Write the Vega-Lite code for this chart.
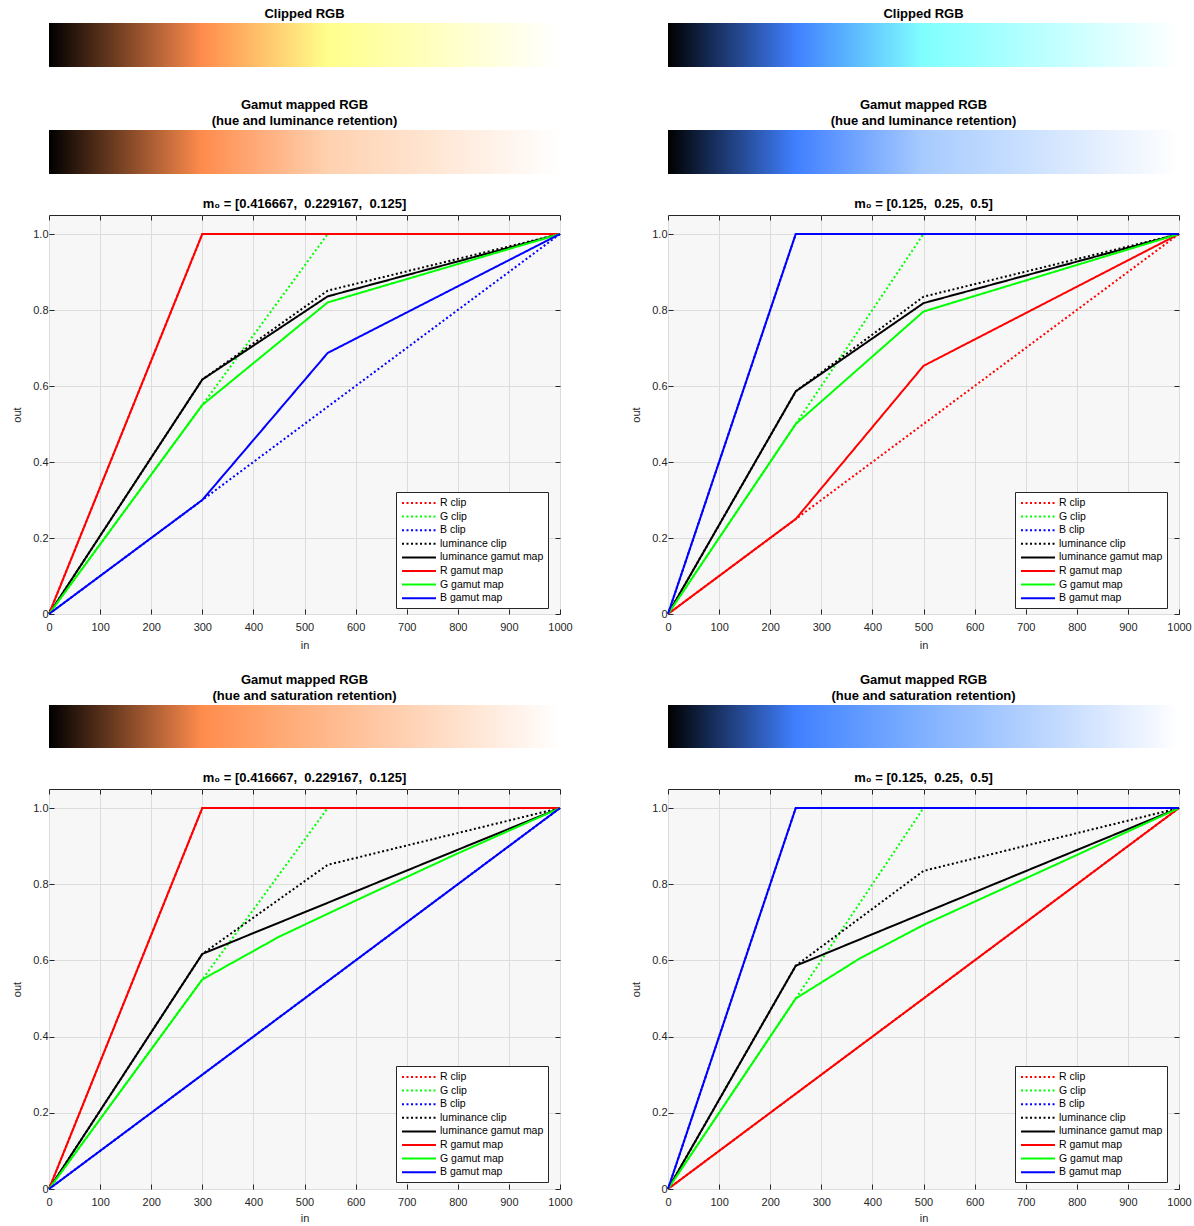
{
  "$schema": "https://vega.github.io/schema/vega-lite/v6.json",
  "background": "white",
  "padding": {"left": 11, "top": 8, "right": 0, "bottom": 0},
  "config": {
    "font": "Liberation Sans",
    "title": {"fontSize": 13, "fontWeight": "bold", "color": "#000000", "offset": 4, "lineHeight": 16},
    "axis": {"labelFontSize": 11, "labelColor": "#262626", "labelFlush": false, "titleFontSize": 11, "titleFontWeight": "normal", "titleColor": "#262626", "tickColor": "#262626", "gridColor": "#dcdcdc", "gridOpacity": 1, "domain": false},
    "view": {"fill": "#f7f7f7", "stroke": "#262626"},
    "legend": {"orient": "none", "legendX": 347, "legendY": 277, "symbolType": "M-3,0H3", "symbolSize": 128, "symbolOffset": 12, "symbolStrokeWidth": 2, "labelFontSize": 10.5, "labelColor": "#000000", "labelOffset": 14, "rowPadding": 0.6, "padding": 4, "fillColor": "#ffffff", "strokeColor": "#262626", "title": null}
  },
  "datasets": {
    "lumL": [
      {"series": "R clip", "in": 0, "out": 0}, {"series": "R clip", "in": 300, "out": 1}, {"series": "R clip", "in": 1000, "out": 1},
      {"series": "G clip", "in": 0, "out": 0}, {"series": "G clip", "in": 545.45, "out": 1}, {"series": "G clip", "in": 1000, "out": 1},
      {"series": "B clip", "in": 0, "out": 0}, {"series": "B clip", "in": 1000, "out": 1},
      {"series": "luminance clip", "in": 0, "out": 0}, {"series": "luminance clip", "in": 300, "out": 0.617}, {"series": "luminance clip", "in": 545.45, "out": 0.851}, {"series": "luminance clip", "in": 1000, "out": 1},
      {"series": "luminance gamut map", "in": 0, "out": 0}, {"series": "luminance gamut map", "in": 300, "out": 0.617}, {"series": "luminance gamut map", "in": 545.45, "out": 0.836}, {"series": "luminance gamut map", "in": 1000, "out": 1},
      {"series": "R gamut map", "in": 0, "out": 0}, {"series": "R gamut map", "in": 300, "out": 1}, {"series": "R gamut map", "in": 1000, "out": 1},
      {"series": "G gamut map", "in": 0, "out": 0}, {"series": "G gamut map", "in": 300, "out": 0.55}, {"series": "G gamut map", "in": 545.45, "out": 0.82}, {"series": "G gamut map", "in": 1000, "out": 1},
      {"series": "B gamut map", "in": 0, "out": 0}, {"series": "B gamut map", "in": 300, "out": 0.3}, {"series": "B gamut map", "in": 545.45, "out": 0.687}, {"series": "B gamut map", "in": 1000, "out": 1}
    ],
    "satL": [
      {"series": "R clip", "in": 0, "out": 0}, {"series": "R clip", "in": 300, "out": 1}, {"series": "R clip", "in": 1000, "out": 1},
      {"series": "G clip", "in": 0, "out": 0}, {"series": "G clip", "in": 545.45, "out": 1}, {"series": "G clip", "in": 1000, "out": 1},
      {"series": "B clip", "in": 0, "out": 0}, {"series": "B clip", "in": 1000, "out": 1},
      {"series": "luminance clip", "in": 0, "out": 0}, {"series": "luminance clip", "in": 300, "out": 0.617}, {"series": "luminance clip", "in": 545.45, "out": 0.851}, {"series": "luminance clip", "in": 1000, "out": 1},
      {"series": "luminance gamut map", "in": 0, "out": 0}, {"series": "luminance gamut map", "in": 300, "out": 0.617}, {"series": "luminance gamut map", "in": 1000, "out": 1},
      {"series": "R gamut map", "in": 0, "out": 0}, {"series": "R gamut map", "in": 300, "out": 1}, {"series": "R gamut map", "in": 1000, "out": 1},
      {"series": "G gamut map", "in": 0, "out": 0}, {"series": "G gamut map", "in": 300, "out": 0.55}, {"series": "G gamut map", "in": 450, "out": 0.662}, {"series": "G gamut map", "in": 600, "out": 0.757}, {"series": "G gamut map", "in": 800, "out": 0.881}, {"series": "G gamut map", "in": 1000, "out": 1},
      {"series": "B gamut map", "in": 0, "out": 0}, {"series": "B gamut map", "in": 1000, "out": 1}
    ],
    "lumR": [
      {"series": "R clip", "in": 0, "out": 0}, {"series": "R clip", "in": 1000, "out": 1},
      {"series": "G clip", "in": 0, "out": 0}, {"series": "G clip", "in": 500, "out": 1}, {"series": "G clip", "in": 1000, "out": 1},
      {"series": "B clip", "in": 0, "out": 0}, {"series": "B clip", "in": 250, "out": 1}, {"series": "B clip", "in": 1000, "out": 1},
      {"series": "luminance clip", "in": 0, "out": 0}, {"series": "luminance clip", "in": 250, "out": 0.586}, {"series": "luminance clip", "in": 500, "out": 0.835}, {"series": "luminance clip", "in": 1000, "out": 1},
      {"series": "luminance gamut map", "in": 0, "out": 0}, {"series": "luminance gamut map", "in": 250, "out": 0.586}, {"series": "luminance gamut map", "in": 500, "out": 0.818}, {"series": "luminance gamut map", "in": 1000, "out": 1},
      {"series": "R gamut map", "in": 0, "out": 0}, {"series": "R gamut map", "in": 250, "out": 0.25}, {"series": "R gamut map", "in": 500, "out": 0.653}, {"series": "R gamut map", "in": 1000, "out": 1},
      {"series": "G gamut map", "in": 0, "out": 0}, {"series": "G gamut map", "in": 250, "out": 0.5}, {"series": "G gamut map", "in": 500, "out": 0.796}, {"series": "G gamut map", "in": 1000, "out": 1},
      {"series": "B gamut map", "in": 0, "out": 0}, {"series": "B gamut map", "in": 250, "out": 1}, {"series": "B gamut map", "in": 1000, "out": 1}
    ],
    "satR": [
      {"series": "R clip", "in": 0, "out": 0}, {"series": "R clip", "in": 1000, "out": 1},
      {"series": "G clip", "in": 0, "out": 0}, {"series": "G clip", "in": 500, "out": 1}, {"series": "G clip", "in": 1000, "out": 1},
      {"series": "B clip", "in": 0, "out": 0}, {"series": "B clip", "in": 250, "out": 1}, {"series": "B clip", "in": 1000, "out": 1},
      {"series": "luminance clip", "in": 0, "out": 0}, {"series": "luminance clip", "in": 250, "out": 0.586}, {"series": "luminance clip", "in": 500, "out": 0.835}, {"series": "luminance clip", "in": 1000, "out": 1},
      {"series": "luminance gamut map", "in": 0, "out": 0}, {"series": "luminance gamut map", "in": 250, "out": 0.586}, {"series": "luminance gamut map", "in": 1000, "out": 1},
      {"series": "R gamut map", "in": 0, "out": 0}, {"series": "R gamut map", "in": 1000, "out": 1},
      {"series": "G gamut map", "in": 0, "out": 0}, {"series": "G gamut map", "in": 250, "out": 0.5}, {"series": "G gamut map", "in": 375, "out": 0.605}, {"series": "G gamut map", "in": 500, "out": 0.693}, {"series": "G gamut map", "in": 750, "out": 0.846}, {"series": "G gamut map", "in": 1000, "out": 1},
      {"series": "B gamut map", "in": 0, "out": 0}, {"series": "B gamut map", "in": 250, "out": 1}, {"series": "B gamut map", "in": 1000, "out": 1}
    ],
    "span": [{"from": 0, "to": 1000}]
  },
  "spacing": 57,
  "resolve": {"scale": {"color": "independent", "strokeDash": "independent"}, "legend": {"color": "independent", "strokeDash": "independent"}},
  "hconcat": [
    {
      "spacing": 23,
      "resolve": {"scale": {"color": "independent", "strokeDash": "independent"}, "legend": {"color": "independent", "strokeDash": "independent"}},
      "vconcat": [
        {
          "width": 511, "height": 53, "title": {"text": "Clipped RGB", "offset": 2}, "view": {"stroke": null, "fill": null},
          "data": {"name": "span"},
          "mark": {"type": "rect", "fill": {"gradient": "linear", "x1": 0, "y1": 0, "x2": 1, "y2": 0, "stops": [{"offset": 0, "color": "#000000"}, {"offset": 0.3, "color": "#ff8c4d"}, {"offset": 0.5455, "color": "#ffff8b"}, {"offset": 1, "color": "#ffffff"}]}},
          "encoding": {"x": {"field": "from", "type": "quantitative", "scale": {"domain": [0, 1000]}, "axis": null}, "x2": {"field": "to"}, "y": {"datum": 0, "type": "quantitative", "scale": {"domain": [-0.205, 1], "nice": false}, "axis": null}, "y2": {"datum": 1}}
        },
        {
          "width": 511, "height": 44, "title": {"text": ["Gamut mapped RGB", "(hue and luminance retention)"], "offset": 2}, "view": {"stroke": null, "fill": null},
          "data": {"name": "span"},
          "mark": {"type": "rect", "fill": {"gradient": "linear", "x1": 0, "y1": 0, "x2": 1, "y2": 0, "stops": [{"offset": 0, "color": "#000000"}, {"offset": 0.3, "color": "#ff8c4d"}, {"offset": 0.5455, "color": "#ffd1af"}, {"offset": 1, "color": "#ffffff"}]}},
          "encoding": {"x": {"field": "from", "type": "quantitative", "scale": {"domain": [0, 1000]}, "axis": null}, "x2": {"field": "to"}}
        },
        {
          "width": 511, "height": 399, "title": "m₀ = [0.416667,\u00a0 0.229167,\u00a0 0.125]",
          "data": {"name": "lumL"},
          "layer": [
            {
              "mark": {"type": "line", "strokeWidth": 2},
              "encoding": {
                "x": {"field": "in", "type": "quantitative", "scale": {"domain": [0, 1000], "nice": false}, "axis": {"orient": "bottom", "values": [0, 100, 200, 300, 400, 500, 600, 700, 800, 900, 1000], "format": "d", "tickSize": -5, "labelPadding": 12, "title": "in", "titlePadding": 7, "grid": true}},
                "y": {"field": "out", "type": "quantitative", "scale": {"domain": [0, 1.05], "nice": false}, "axis": {"orient": "left", "values": [0, 0.2, 0.4, 0.6, 0.8, 1.0], "labelExpr": "datum.value == 0 ? '0' : format(datum.value, '.1f')", "tickSize": -5, "labelPadding": 6, "title": "out", "titlePadding": 10, "grid": true}},
                "color": {"field": "series", "type": "nominal", "sort": null, "scale": {"domain": ["R clip", "G clip", "B clip", "luminance clip", "luminance gamut map", "R gamut map", "G gamut map", "B gamut map"], "range": ["#ff0000", "#00ff00", "#0000ff", "#000000", "#000000", "#ff0000", "#00ff00", "#0000ff"]}},
                "strokeDash": {"field": "series", "type": "nominal", "sort": null, "scale": {"domain": ["R clip", "G clip", "B clip", "luminance clip", "luminance gamut map", "R gamut map", "G gamut map", "B gamut map"], "range": [[2, 2.5], [2, 2.5], [2, 2.5], [2, 2.5], [1, 0], [1, 0], [1, 0], [1, 0]]}}
              }
            },
            {
              "mark": {"type": "point", "opacity": 0},
              "encoding": {
                "x": {"field": "in", "type": "quantitative", "axis": {"orient": "top", "values": [0, 100, 200, 300, 400, 500, 600, 700, 800, 900, 1000], "tickSize": -5, "labels": false, "grid": false, "title": null}},
                "y": {"field": "out", "type": "quantitative", "axis": {"orient": "right", "values": [0, 0.2, 0.4, 0.6, 0.8, 1.0], "tickSize": -5, "labels": false, "grid": false, "title": null}}
              }
            }
          ],
          "resolve": {"axis": {"x": "independent", "y": "independent"}}
        },
        {
          "width": 511, "height": 43, "title": {"text": ["Gamut mapped RGB", "(hue and saturation retention)"], "offset": 2}, "view": {"stroke": null, "fill": null},
          "data": {"name": "span"},
          "mark": {"type": "rect", "fill": {"gradient": "linear", "x1": 0, "y1": 0, "x2": 1, "y2": 0, "stops": [{"offset": 0, "color": "#000000"}, {"offset": 0.3, "color": "#ff8c4d"}, {"offset": 0.45, "color": "#ffa973"}, {"offset": 0.6, "color": "#ffc199"}, {"offset": 0.8, "color": "#ffe1cc"}, {"offset": 1, "color": "#ffffff"}]}},
          "encoding": {"x": {"field": "from", "type": "quantitative", "scale": {"domain": [0, 1000]}, "axis": null}, "x2": {"field": "to"}}
        },
        {
          "width": 511, "height": 400, "title": "m₀ = [0.416667,\u00a0 0.229167,\u00a0 0.125]",
          "data": {"name": "satL"},
          "layer": [
            {
              "mark": {"type": "line", "strokeWidth": 2},
              "encoding": {
                "x": {"field": "in", "type": "quantitative", "scale": {"domain": [0, 1000], "nice": false}, "axis": {"orient": "bottom", "values": [0, 100, 200, 300, 400, 500, 600, 700, 800, 900, 1000], "format": "d", "tickSize": -5, "labelPadding": 12, "title": "in", "titlePadding": 5, "grid": true}},
                "y": {"field": "out", "type": "quantitative", "scale": {"domain": [0, 1.05], "nice": false}, "axis": {"orient": "left", "values": [0, 0.2, 0.4, 0.6, 0.8, 1.0], "labelExpr": "datum.value == 0 ? '0' : format(datum.value, '.1f')", "tickSize": -5, "labelPadding": 6, "title": "out", "titlePadding": 10, "grid": true}},
                "color": {"field": "series", "type": "nominal", "sort": null, "scale": {"domain": ["R clip", "G clip", "B clip", "luminance clip", "luminance gamut map", "R gamut map", "G gamut map", "B gamut map"], "range": ["#ff0000", "#00ff00", "#0000ff", "#000000", "#000000", "#ff0000", "#00ff00", "#0000ff"]}},
                "strokeDash": {"field": "series", "type": "nominal", "sort": null, "scale": {"domain": ["R clip", "G clip", "B clip", "luminance clip", "luminance gamut map", "R gamut map", "G gamut map", "B gamut map"], "range": [[2, 2.5], [2, 2.5], [2, 2.5], [2, 2.5], [1, 0], [1, 0], [1, 0], [1, 0]]}}
              }
            },
            {
              "mark": {"type": "point", "opacity": 0},
              "encoding": {
                "x": {"field": "in", "type": "quantitative", "axis": {"orient": "top", "values": [0, 100, 200, 300, 400, 500, 600, 700, 800, 900, 1000], "tickSize": -5, "labels": false, "grid": false, "title": null}},
                "y": {"field": "out", "type": "quantitative", "axis": {"orient": "right", "values": [0, 0.2, 0.4, 0.6, 0.8, 1.0], "tickSize": -5, "labels": false, "grid": false, "title": null}}
              }
            }
          ],
          "resolve": {"axis": {"x": "independent", "y": "independent"}}
        }
      ]
    },
    {
      "spacing": 23,
      "resolve": {"scale": {"color": "independent", "strokeDash": "independent"}, "legend": {"color": "independent", "strokeDash": "independent"}},
      "vconcat": [
        {
          "width": 511, "height": 53, "title": {"text": "Clipped RGB", "offset": 2}, "view": {"stroke": null, "fill": null},
          "data": {"name": "span"},
          "mark": {"type": "rect", "fill": {"gradient": "linear", "x1": 0, "y1": 0, "x2": 1, "y2": 0, "stops": [{"offset": 0, "color": "#000000"}, {"offset": 0.25, "color": "#4080ff"}, {"offset": 0.5, "color": "#80ffff"}, {"offset": 1, "color": "#ffffff"}]}},
          "encoding": {"x": {"field": "from", "type": "quantitative", "scale": {"domain": [0, 1000]}, "axis": null}, "x2": {"field": "to"}, "y": {"datum": 0, "type": "quantitative", "scale": {"domain": [-0.205, 1], "nice": false}, "axis": null}, "y2": {"datum": 1}}
        },
        {
          "width": 511, "height": 44, "title": {"text": ["Gamut mapped RGB", "(hue and luminance retention)"], "offset": 2}, "view": {"stroke": null, "fill": null},
          "data": {"name": "span"},
          "mark": {"type": "rect", "fill": {"gradient": "linear", "x1": 0, "y1": 0, "x2": 1, "y2": 0, "stops": [{"offset": 0, "color": "#000000"}, {"offset": 0.25, "color": "#4080ff"}, {"offset": 0.5, "color": "#a7cbff"}, {"offset": 1, "color": "#ffffff"}]}},
          "encoding": {"x": {"field": "from", "type": "quantitative", "scale": {"domain": [0, 1000]}, "axis": null}, "x2": {"field": "to"}}
        },
        {
          "width": 511, "height": 399, "title": "m₀ = [0.125,\u00a0 0.25,\u00a0 0.5]",
          "data": {"name": "lumR"},
          "layer": [
            {
              "mark": {"type": "line", "strokeWidth": 2},
              "encoding": {
                "x": {"field": "in", "type": "quantitative", "scale": {"domain": [0, 1000], "nice": false}, "axis": {"orient": "bottom", "values": [0, 100, 200, 300, 400, 500, 600, 700, 800, 900, 1000], "format": "d", "tickSize": -5, "labelPadding": 12, "title": "in", "titlePadding": 7, "grid": true}},
                "y": {"field": "out", "type": "quantitative", "scale": {"domain": [0, 1.05], "nice": false}, "axis": {"orient": "left", "values": [0, 0.2, 0.4, 0.6, 0.8, 1.0], "labelExpr": "datum.value == 0 ? '0' : format(datum.value, '.1f')", "tickSize": -5, "labelPadding": 6, "title": "out", "titlePadding": 10, "grid": true}},
                "color": {"field": "series", "type": "nominal", "sort": null, "scale": {"domain": ["R clip", "G clip", "B clip", "luminance clip", "luminance gamut map", "R gamut map", "G gamut map", "B gamut map"], "range": ["#ff0000", "#00ff00", "#0000ff", "#000000", "#000000", "#ff0000", "#00ff00", "#0000ff"]}},
                "strokeDash": {"field": "series", "type": "nominal", "sort": null, "scale": {"domain": ["R clip", "G clip", "B clip", "luminance clip", "luminance gamut map", "R gamut map", "G gamut map", "B gamut map"], "range": [[2, 2.5], [2, 2.5], [2, 2.5], [2, 2.5], [1, 0], [1, 0], [1, 0], [1, 0]]}}
              }
            },
            {
              "mark": {"type": "point", "opacity": 0},
              "encoding": {
                "x": {"field": "in", "type": "quantitative", "axis": {"orient": "top", "values": [0, 100, 200, 300, 400, 500, 600, 700, 800, 900, 1000], "tickSize": -5, "labels": false, "grid": false, "title": null}},
                "y": {"field": "out", "type": "quantitative", "axis": {"orient": "right", "values": [0, 0.2, 0.4, 0.6, 0.8, 1.0], "tickSize": -5, "labels": false, "grid": false, "title": null}}
              }
            }
          ],
          "resolve": {"axis": {"x": "independent", "y": "independent"}}
        },
        {
          "width": 511, "height": 43, "title": {"text": ["Gamut mapped RGB", "(hue and saturation retention)"], "offset": 2}, "view": {"stroke": null, "fill": null},
          "data": {"name": "span"},
          "mark": {"type": "rect", "fill": {"gradient": "linear", "x1": 0, "y1": 0, "x2": 1, "y2": 0, "stops": [{"offset": 0, "color": "#000000"}, {"offset": 0.25, "color": "#4080ff"}, {"offset": 0.375, "color": "#609aff"}, {"offset": 0.5, "color": "#80b1ff"}, {"offset": 0.75, "color": "#bfd8ff"}, {"offset": 1, "color": "#ffffff"}]}},
          "encoding": {"x": {"field": "from", "type": "quantitative", "scale": {"domain": [0, 1000]}, "axis": null}, "x2": {"field": "to"}}
        },
        {
          "width": 511, "height": 400, "title": "m₀ = [0.125,\u00a0 0.25,\u00a0 0.5]",
          "data": {"name": "satR"},
          "layer": [
            {
              "mark": {"type": "line", "strokeWidth": 2},
              "encoding": {
                "x": {"field": "in", "type": "quantitative", "scale": {"domain": [0, 1000], "nice": false}, "axis": {"orient": "bottom", "values": [0, 100, 200, 300, 400, 500, 600, 700, 800, 900, 1000], "format": "d", "tickSize": -5, "labelPadding": 12, "title": "in", "titlePadding": 5, "grid": true}},
                "y": {"field": "out", "type": "quantitative", "scale": {"domain": [0, 1.05], "nice": false}, "axis": {"orient": "left", "values": [0, 0.2, 0.4, 0.6, 0.8, 1.0], "labelExpr": "datum.value == 0 ? '0' : format(datum.value, '.1f')", "tickSize": -5, "labelPadding": 6, "title": "out", "titlePadding": 10, "grid": true}},
                "color": {"field": "series", "type": "nominal", "sort": null, "scale": {"domain": ["R clip", "G clip", "B clip", "luminance clip", "luminance gamut map", "R gamut map", "G gamut map", "B gamut map"], "range": ["#ff0000", "#00ff00", "#0000ff", "#000000", "#000000", "#ff0000", "#00ff00", "#0000ff"]}},
                "strokeDash": {"field": "series", "type": "nominal", "sort": null, "scale": {"domain": ["R clip", "G clip", "B clip", "luminance clip", "luminance gamut map", "R gamut map", "G gamut map", "B gamut map"], "range": [[2, 2.5], [2, 2.5], [2, 2.5], [2, 2.5], [1, 0], [1, 0], [1, 0], [1, 0]]}}
              }
            },
            {
              "mark": {"type": "point", "opacity": 0},
              "encoding": {
                "x": {"field": "in", "type": "quantitative", "axis": {"orient": "top", "values": [0, 100, 200, 300, 400, 500, 600, 700, 800, 900, 1000], "tickSize": -5, "labels": false, "grid": false, "title": null}},
                "y": {"field": "out", "type": "quantitative", "axis": {"orient": "right", "values": [0, 0.2, 0.4, 0.6, 0.8, 1.0], "tickSize": -5, "labels": false, "grid": false, "title": null}}
              }
            }
          ],
          "resolve": {"axis": {"x": "independent", "y": "independent"}}
        }
      ]
    }
  ]
}
